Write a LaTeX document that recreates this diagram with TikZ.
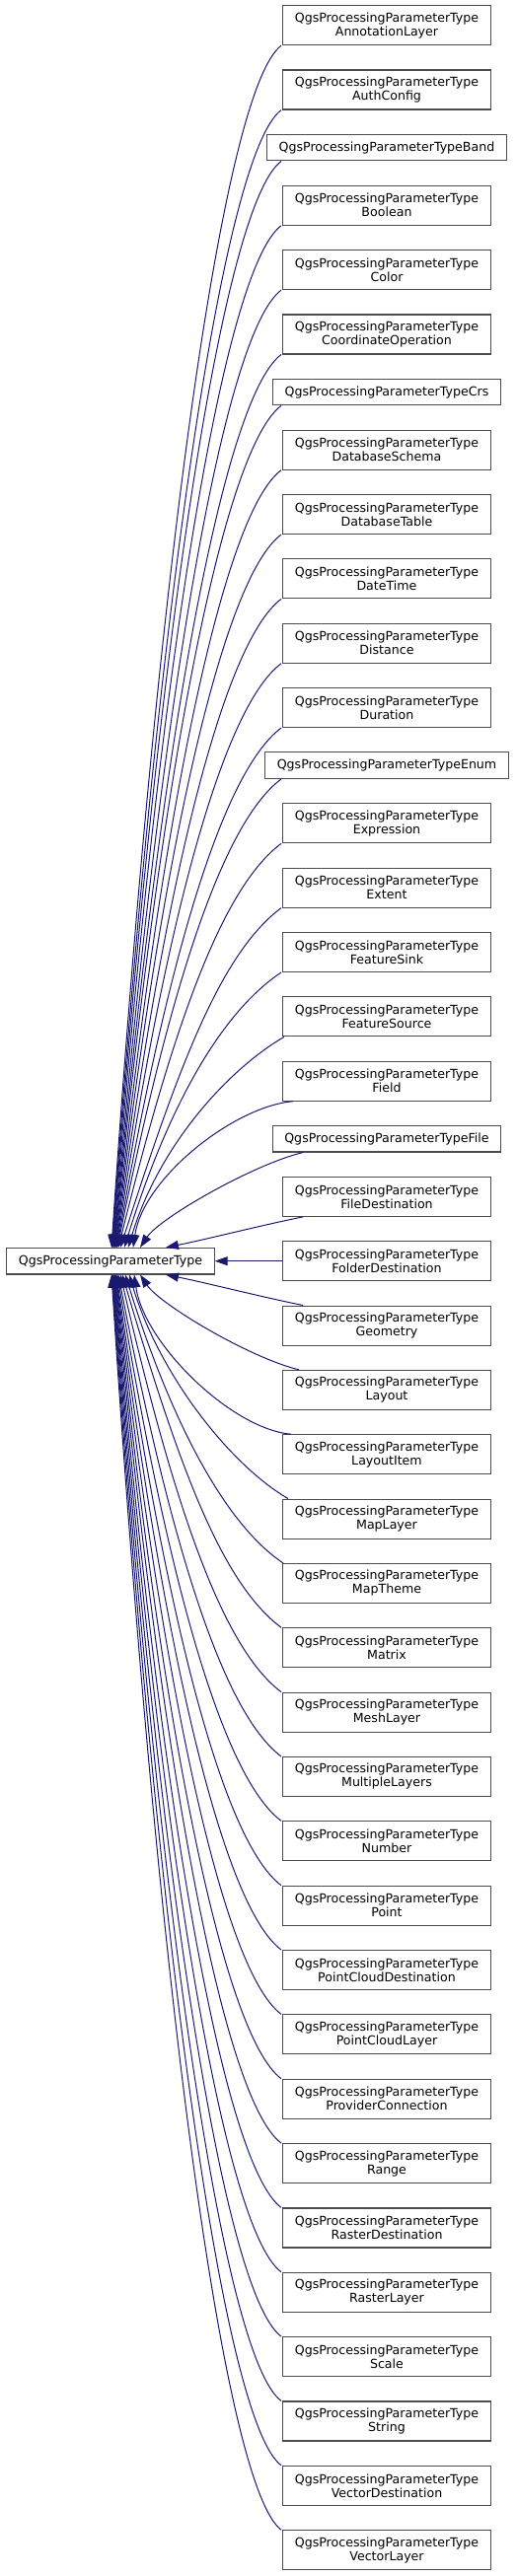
\documentclass[tikz,border=0pt]{standalone}
\usepackage{fontspec}
\usepackage{tikz}
\usetikzlibrary{arrows.meta}
\setmainfont{DejaVu Sans}
\definecolor{edgeblue}{RGB}{25,25,112}
\tikzset{klass/.style={draw=black!70, line width=1.1pt, align=center,
    inner xsep=12pt, inner ysep=0pt, minimum height=40pt,
    font=\fontsize{12.6}{14}\selectfont}}
\tikzset{klassone/.style={klass, minimum height=26.5pt}}
\tikzset{inherit/.style={{Triangle[length=13pt,width=9pt]}-, draw=edgeblue, line width=1pt}}

\begin{document}
\begin{tikzpicture}[x=1pt,y=1pt]
        \useasboundingbox (0,0) rectangle (524,-2612);

        \node[klassone] (ppt) at (112,-1278.7) {QgsProcessingParameterType};

        \node[klass] (ann) at (392,-25.7) {QgsProcessingParameterType\\AnnotationLayer};
        \node[klass] (ath) at (392,-91.05) {QgsProcessingParameterType\\AuthConfig};
        \node[klassone] (bnd) at (392,-149.65) {QgsProcessingParameterTypeBand};
        \node[klass] (bln) at (392,-208.25) {QgsProcessingParameterType\\Boolean};
        \node[klass] (clr) at (392,-273.6) {QgsProcessingParameterType\\Color};
        \node[klass] (cop) at (392,-338.95) {QgsProcessingParameterType\\CoordinateOperation};
        \node[klassone] (crs) at (392,-397.55) {QgsProcessingParameterTypeCrs};
        \node[klass] (dsc) at (392,-456.15) {QgsProcessingParameterType\\DatabaseSchema};
        \node[klass] (dtb) at (392,-521.5) {QgsProcessingParameterType\\DatabaseTable};
        \node[klass] (dtt) at (392,-586.85) {QgsProcessingParameterType\\DateTime};
        \node[klass] (dis) at (392,-652.2) {QgsProcessingParameterType\\Distance};
        \node[klass] (dur) at (392,-717.55) {QgsProcessingParameterType\\Duration};
        \node[klassone] (enm) at (392,-776.15) {QgsProcessingParameterTypeEnum};
        \node[klass] (xpr) at (392,-834.75) {QgsProcessingParameterType\\Expression};
        \node[klass] (ext) at (392,-900.1) {QgsProcessingParameterType\\Extent};
        \node[klass] (fsk) at (392,-965.45) {QgsProcessingParameterType\\FeatureSink};
        \node[klass] (fsr) at (392,-1030.8) {QgsProcessingParameterType\\FeatureSource};
        \node[klass] (fld) at (392,-1096.15) {QgsProcessingParameterType\\Field};
        \node[klassone] (fil) at (392,-1154.75) {QgsProcessingParameterTypeFile};
        \node[klass] (fds) at (392,-1213.35) {QgsProcessingParameterType\\FileDestination};
        \node[klass] (fod) at (392,-1278.7) {QgsProcessingParameterType\\FolderDestination};
        \node[klass] (geo) at (392,-1344.05) {QgsProcessingParameterType\\Geometry};
        \node[klass] (lay) at (392,-1409.4) {QgsProcessingParameterType\\Layout};
        \node[klass] (lit) at (392,-1474.75) {QgsProcessingParameterType\\LayoutItem};
        \node[klass] (mly) at (392,-1540.1) {QgsProcessingParameterType\\MapLayer};
        \node[klass] (mth) at (392,-1605.45) {QgsProcessingParameterType\\MapTheme};
        \node[klass] (mtx) at (392,-1670.8) {QgsProcessingParameterType\\Matrix};
        \node[klass] (msh) at (392,-1736.15) {QgsProcessingParameterType\\MeshLayer};
        \node[klass] (mul) at (392,-1801.5) {QgsProcessingParameterType\\MultipleLayers};
        \node[klass] (num) at (392,-1866.85) {QgsProcessingParameterType\\Number};
        \node[klass] (pnt) at (392,-1932.2) {QgsProcessingParameterType\\Point};
        \node[klass] (pcd) at (392,-1997.55) {QgsProcessingParameterType\\PointCloudDestination};
        \node[klass] (pcl) at (392,-2062.9) {QgsProcessingParameterType\\PointCloudLayer};
        \node[klass] (prv) at (392,-2128.25) {QgsProcessingParameterType\\ProviderConnection};
        \node[klass] (rng) at (392,-2193.6) {QgsProcessingParameterType\\Range};
        \node[klass] (rds) at (392,-2258.95) {QgsProcessingParameterType\\RasterDestination};
        \node[klass] (rly) at (392,-2324.3) {QgsProcessingParameterType\\RasterLayer};
        \node[klass] (scl) at (392,-2389.65) {QgsProcessingParameterType\\Scale};
        \node[klass] (str) at (392,-2455) {QgsProcessingParameterType\\String};
        \node[klass] (vds) at (392,-2520.35) {QgsProcessingParameterType\\VectorDestination};
        \node[klass] (vly) at (392,-2585.7) {QgsProcessingParameterType\\VectorLayer};

        % classes above the base
        \draw[inherit] ([xshift=1pt]ppt.north) .. controls +(45,671) and +(-60,-45) .. ([xshift=-107pt]ann.south);
        \draw[inherit] ([xshift=1.5pt]ppt.north) .. controls +(45,635) and +(-60,-45) .. ([xshift=-107pt]ath.south);
        \draw[inherit] ([xshift=2pt]ppt.north) .. controls +(45,606) and +(-60,-45) .. ([xshift=-107pt]bnd.south);
        \draw[inherit] ([xshift=2.5pt]ppt.north) .. controls +(45,570) and +(-60,-45) .. ([xshift=-107pt]bln.south);
        \draw[inherit] ([xshift=3pt]ppt.north) .. controls +(46,535) and +(-60,-45) .. ([xshift=-107pt]clr.south);
        \draw[inherit] ([xshift=3.5pt]ppt.north) .. controls +(46,499) and +(-60,-45) .. ([xshift=-107pt]cop.south);
        \draw[inherit] ([xshift=4pt]ppt.north) .. controls +(46,470) and +(-60,-45) .. ([xshift=-107pt]crs.south);
        \draw[inherit] ([xshift=4.5pt]ppt.north) .. controls +(47,434) and +(-60,-45) .. ([xshift=-107pt]dsc.south);
        \draw[inherit] ([xshift=5pt]ppt.north) .. controls +(47,398) and +(-60,-45) .. ([xshift=-107pt]dtb.south);
        \draw[inherit] ([xshift=5.5pt]ppt.north) .. controls +(48,362) and +(-60,-45) .. ([xshift=-107pt]dtt.south);
        \draw[inherit] ([xshift=6pt]ppt.north) .. controls +(49,326) and +(-60,-45) .. ([xshift=-107pt]dis.south);
        \draw[inherit] ([xshift=6.5pt]ppt.north) .. controls +(51,290) and +(-60,-45) .. ([xshift=-107pt]dur.south);
        \draw[inherit] ([xshift=7pt]ppt.north) .. controls +(53,262) and +(-60,-45) .. ([xshift=-107pt]enm.south);
        \draw[inherit] ([xshift=8pt]ppt.north) .. controls +(56,226) and +(-60,-45) .. ([xshift=-107pt]xpr.south);
        \draw[inherit] ([xshift=10pt]ppt.north) .. controls +(61,190) and +(-60,-45) .. ([xshift=-107pt]ext.south);
        \draw[inherit] ([xshift=14pt]ppt.north) .. controls +(45,145) and +(-60,-40) .. ([xshift=-107pt]fsk.south);
        \draw[inherit] ([xshift=18pt]ppt.north) .. controls +(30,100) and +(-60,-35) .. ([xshift=-104pt]fsr.south);
        \draw[inherit] ([xshift=23pt]ppt.north) .. controls +(10,70) and +(-60,-5) .. ([xshift=-95pt]fld.south);
        \draw[inherit] ([xshift=30pt]ppt.north) .. controls +(20,30) and +(-50,-12) .. ([xshift=-85pt]fil.south);
        \draw[inherit] ([xshift=56pt]ppt.north) .. controls +(40,8) and +(-40,-8) .. ([xshift=-85pt]fds.south);

        \draw[inherit] (ppt.east) -- (fod.west);

        % classes below the base
        \draw[inherit] ([xshift=56pt]ppt.south) .. controls +(40,-8) and +(-40,8) .. ([xshift=-85pt]geo.north);
        \draw[inherit] ([xshift=30pt]ppt.south) .. controls +(20,-30) and +(-50,12) .. ([xshift=-89pt]lay.north);
        \draw[inherit] ([xshift=24pt]ppt.south) .. controls +(10,-70) and +(-60,5) .. ([xshift=-97pt]lit.north);
        \draw[inherit] ([xshift=19pt]ppt.south) .. controls +(30,-100) and +(-60,35) .. ([xshift=-100pt]mly.north);
        \draw[inherit] ([xshift=15pt]ppt.south) .. controls +(45,-145) and +(-60,40) .. ([xshift=-105pt]mth.north);
        \draw[inherit] ([xshift=12pt]ppt.south) .. controls +(58,-197) and +(-60,45) .. ([xshift=-107pt]mtx.north);
        \draw[inherit] ([xshift=10pt]ppt.south) .. controls +(54,-233) and +(-60,45) .. ([xshift=-107pt]msh.north);
        \draw[inherit] ([xshift=8pt]ppt.south) .. controls +(52,-269) and +(-60,45) .. ([xshift=-107pt]mul.north);
        \draw[inherit] ([xshift=7pt]ppt.south) .. controls +(50,-305) and +(-60,45) .. ([xshift=-107pt]num.north);
        \draw[inherit] ([xshift=6pt]ppt.south) .. controls +(49,-341) and +(-60,45) .. ([xshift=-107pt]pnt.north);
        \draw[inherit] ([xshift=5.5pt]ppt.south) .. controls +(48,-377) and +(-60,45) .. ([xshift=-107pt]pcd.north);
        \draw[inherit] ([xshift=5pt]ppt.south) .. controls +(47,-413) and +(-60,45) .. ([xshift=-107pt]pcl.north);
        \draw[inherit] ([xshift=4.5pt]ppt.south) .. controls +(46,-449) and +(-60,45) .. ([xshift=-107pt]prv.north);
        \draw[inherit] ([xshift=4pt]ppt.south) .. controls +(46,-485) and +(-60,45) .. ([xshift=-107pt]rng.north);
        \draw[inherit] ([xshift=3.5pt]ppt.south) .. controls +(45,-521) and +(-60,45) .. ([xshift=-107pt]rds.north);
        \draw[inherit] ([xshift=3pt]ppt.south) .. controls +(45,-557) and +(-60,45) .. ([xshift=-107pt]rly.north);
        \draw[inherit] ([xshift=2.5pt]ppt.south) .. controls +(45,-593) and +(-60,45) .. ([xshift=-107pt]scl.north);
        \draw[inherit] ([xshift=2pt]ppt.south) .. controls +(45,-629) and +(-60,45) .. ([xshift=-107pt]str.north);
        \draw[inherit] ([xshift=1.5pt]ppt.south) .. controls +(45,-665) and +(-60,45) .. ([xshift=-107pt]vds.north);
        \draw[inherit] ([xshift=1pt]ppt.south) .. controls +(45,-700) and +(-60,45) .. ([xshift=-107pt]vly.north);
\end{tikzpicture}
\end{document}
